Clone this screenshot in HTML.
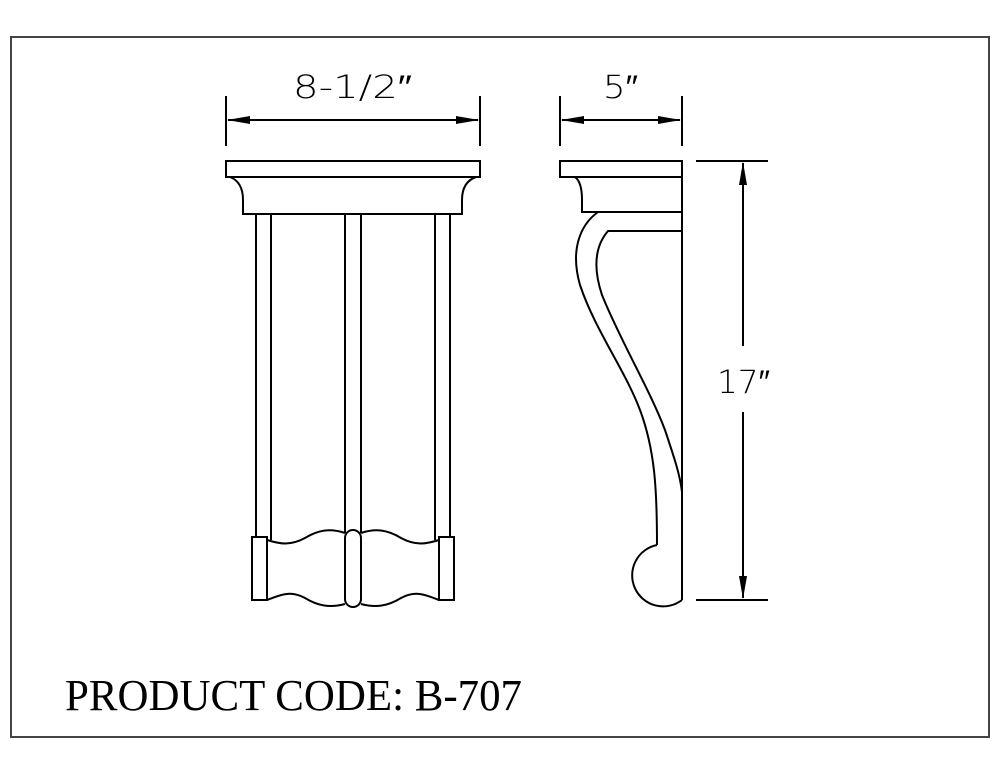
<!DOCTYPE html>
<html><head><style>html,body{margin:0;padding:0;background:#fff}svg{display:block}</style></head>
<body>
<svg width="1000" height="773" viewBox="0 0 1000 773" xmlns="http://www.w3.org/2000/svg">
<rect x="11" y="37" width="978" height="700" fill="none" stroke="#444" stroke-width="2"/>
<g fill="none" stroke="#000" stroke-width="2">
<rect x="226" y="161" width="254" height="16"/>
<path d="M230 177 Q243 182 243 200 L243 214 L462 214 L462 200 Q462 182 476 177"/>
<line x1="256" y1="214" x2="256" y2="537"/><line x1="271" y1="214" x2="271" y2="540"/>
<line x1="435" y1="214" x2="435" y2="540"/><line x1="450" y1="214" x2="450" y2="537"/>
<line x1="345" y1="214" x2="345" y2="533"/><line x1="361" y1="214" x2="361" y2="533"/>
<rect x="252" y="537" width="15" height="63"/>
<rect x="439" y="537" width="15" height="63"/>
<rect x="345" y="530" width="16" height="77" rx="8"/>
<path d="M267 540 C280 544 290 546 305 538 C318 530 330 528 345 533"/>
<path d="M361 533 C376 528 388 530 401 538 C416 546 426 544 439 540"/>
<path d="M267 600 C280 595 290 590 305 598 C318 606 330 608 345 604"/>
<path d="M361 604 C376 608 388 606 401 598 C416 590 426 595 439 600"/>
<rect x="560" y="161" width="122" height="16"/>
<path d="M575 177 Q582 182 582 200 L582 212 L682 212"/>
<line x1="682" y1="161" x2="682" y2="600"/>
<path d="M598 212 C580 225 570 250 580 285 C595 330 625 370 640 410 C655 450 657 490 657 545"/>
<path d="M682 231 L608 231 C596 245 592 265 602 295 C620 340 650 390 665 430 C675 460 680 475 682 492"/>
<path d="M657 545 A31 31 0 1 0 682 600"/>
<line x1="226" y1="96" x2="226" y2="146"/><line x1="480" y1="96" x2="480" y2="146"/>
<line x1="560" y1="96" x2="560" y2="146"/><line x1="682" y1="96" x2="682" y2="146"/>
<line x1="228" y1="120" x2="478" y2="120"/><line x1="562" y1="120" x2="680" y2="120"/>
<line x1="696" y1="161" x2="768" y2="161"/><line x1="696" y1="600" x2="768" y2="600"/>
<line x1="743" y1="163" x2="743" y2="346"/><line x1="743" y1="412" x2="743" y2="598"/>
</g>
<g fill="#000">
<polygon points="227,120 250,116 250,124"/><polygon points="479,120 456,116 456,124"/>
<polygon points="561,120 584,116 584,124"/><polygon points="681,120 658,116 658,124"/>
<polygon points="743,162 739,185 747,185"/><polygon points="743,599 739,576 747,576"/>
</g>
<g font-family="'DejaVu Sans','Liberation Sans',sans-serif" font-weight="200" font-size="32" fill="#000">
<text x="293" y="98" textLength="119" lengthAdjust="spacingAndGlyphs">8-1/2″</text>
<text x="603" y="98" textLength="35" lengthAdjust="spacingAndGlyphs">5″</text>
<text x="717" y="393" textLength="53" lengthAdjust="spacingAndGlyphs">17″</text>
</g>
<text x="65" y="710" font-family="'Liberation Serif',serif" font-size="44" fill="#000" textLength="457" lengthAdjust="spacingAndGlyphs">PRODUCT CODE: B-707</text>
</svg>
</body></html>
